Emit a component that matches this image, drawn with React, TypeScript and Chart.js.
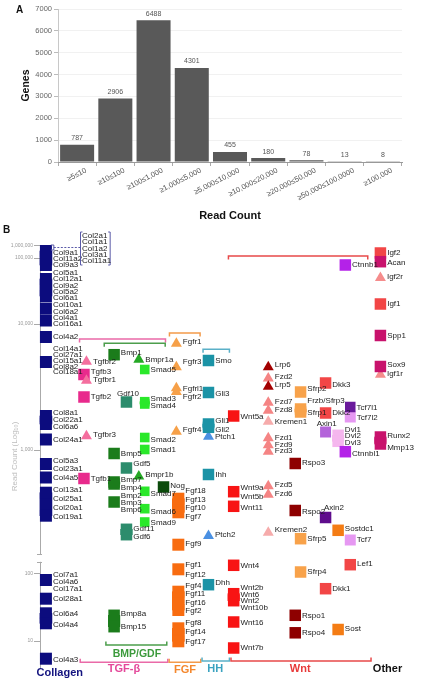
import React, { useEffect, useRef } from "react";
import { Chart, registerables } from "chart.js";

Chart.register(...registerables);

const FONT = '"Liberation Sans", Arial, "DejaVu Sans", sans-serif';

// ---------------- Panel A data ----------------
const readCountBins = [
  "≥5≤10",
  "≥10≤100",
  "≥100≤1,000",
  "≥1,000≤5,000",
  "≥5,000≤10,000",
  "≥10,000≤20,000",
  "≥20,000≤50,000",
  "≥50,000≤100,0000",
  "≥100,000",
];
const geneCounts = [787, 2906, 6488, 4301, 455, 180, 78, 13, 8];

// ---------------- Panel B data ----------------
// y = position on the (broken) log read-count axis, in plot units
const readCountTickPos = [34, 101.7, 225, 351, 417, 429.3];
const readCountTickLabels = ["10", "100", "1,000", "10,000", "100,000", "1,000,000"];
const axisBreak = [112.7, 120.7];

// row: [gene names, marker positions, label centre?, label spacing?, label x?]
type Row = [string, number[], number?, number?, number?];

const collagenGenes: Row[] = [
  ["Col9a1|Col11a2|Col9a3", [424, 410], 416, 6],
  ["Col5a1|Col12a1|Col9a2|Col5a2|Col6a1", [396, 379], 389.5, 6.3],
  ["Col10a1|Col6a2", [366.5], 366.7, 6.7],
  ["Col4a1|Col16a1", [354.5], 354, 6],
  ["Col4a2", [338]],
  ["Col14a1|Col27a1|Col15a1|Col8a2|Col18a1", [313], 314.5, 5.8],
  ["Col8a1|Col22a1|Col6a6", [259, 251], 255.3, 7],
  ["Col24a1", [235.5]],
  ["Col5a3|Col23a1", [211], 210.2, 8.3],
  ["Col4a5", [197.5]],
  ["Col13a1|Col25a1|Col20a1|Col19a1", [182.3, 159.3], 171.75, 8.9],
  ["Col7a1|Col4a6|Col17a1", [95], 93.3, 7.3],
  ["Col28a1", [76.3]],
  ["Col6a4|Col4a4", [61.7, 51.7], 56.2, 11],
  ["Col4a3", [16.3], 15],
];
const collagenTop = ["Col2a1", "Col1a1", "Col1a2", "Col3a1", "Col11a1"];

const tgfReceptors: Row[] = [["Tgfbr2", [313.4], 313.3], ["Tgfbr1", [294.4], 295.5], ["Tgfbr3", [239], 240.7]];
const tgfLigands: Row[] = [["Tgfb3", [300.5], 303.3], ["Tgfb2", [278]], ["Tgfb1", [196.5]]];

const bmpLigands: Row[] = [
  ["Bmp1", [320.3], 322.3],
  ["Bmp5", [221.5]],
  ["Bmp7|Bmp4", [193, 191], 191.7, 8],
  ["Bmp2|Bmp3|Bmp6", [173], 172.2, 7.2],
  ["Bmp8a|Bmp15", [59.7, 48.3], 54.7, 12.7],
];
const gdfLigands: Row[] = [
  ["Gdf10", [273], 281.7, undefined, 118],
  ["Gdf5", [207], 211.7],
  ["Gdf11|Gdf6", [145.7, 140.3], 142.5, 8.4],
];
const bmpReceptors: Row[] = [["Bmpr1a", [315.4], 315], ["Bmpr1b", [198.7], 200.7]];
const smads: Row[] = [
  ["Smad5", [305.5], 305],
  ["Smad3|Smad4", [273.3, 271], 272.5, 7],
  ["Smad2", [237.5], 235.7],
  ["Smad1", [225.5]],
  ["Smad7", [183.7], 181],
  ["Smad6", [166.3], 163.3],
  ["Smad9", [153], 152.3],
];
const noggin: Row[] = [["Nog", [188], 189.3]];

const fgfReceptors: Row[] = [
  ["Fgfr1", [331.5], 333.3],
  ["Fgfr3", [308], 313.3],
  ["Fgfrl1|Fgfr2", [286.9, 283.2], 282.5, 8.4],
  ["Fgfr4", [243.4], 245],
];
const fgfLigands: Row[] = [
  ["Fgf18|Fgf13|Fgf10|Fgf7", [176.3, 162.7], 171.4, 8.6],
  ["Fgf9", [130.3], 131],
  ["Fgf1|Fgf12", [105.7], 105.3, 10.7],
  ["Fgf4|Fgf11|Fgf16|Fgf2", [83.3, 65], 76.8, 8.2],
  ["Fgf8|Fgf14|Fgf17", [46.7, 33.7], 42.8, 9.5],
];

const hhGenes: Row[] = [
  ["Smo", [314.5], 314],
  ["Gli3", [282.5], 281],
  ["Gli1|Gli2", [251, 247.7], 249.8, 8.3],
  ["Ihh", [200.5], 200],
  ["Dhh", [90.3], 92.3],
];
const patched: Row[] = [["Ptch1", [238.4], 238.3], ["Ptch2", [139.1], 140]];

const wntLigands: Row[] = [
  ["Wnt5a", [259], 258.3],
  ["Wnt9a|Wnt5b", [183.3], 183, 9.4],
  ["Wnt11", [168.7], 167.7],
  ["Wnt4", [109.7]],
  ["Wnt2b|Wnt6|Wnt2|Wnt10b", [81.3, 74.3], 77, 6.5],
  ["Wnt16", [53], 52.3],
  ["Wnt7b", [27]],
];
const lrpReceptors: Row[] = [["Lrp6", [308], 310], ["Lrp5", [288.4], 290]];
const frizzleds: Row[] = [
  ["Fzd2", [296.7], 298.3],
  ["Fzd7|Fzd8", [272.4, 264.4], 269.5, 7.6],
  ["Fzd1|Fzd9|Fzd3", [236.9, 229.9, 223.4], 230.7, 6.2],
  ["Fzd5|Fzd6", [188.9, 180.4], 185.5, 9],
];
const kremens: Row[] = [["Kremen1", [253.4], 253.3], ["Kremen2", [142.4], 145]];
const rspondins: Row[] = [["Rspo3", [211.5], 212], ["Rspo2", [164.5], 163.3], ["Rspo1", [59.7], 59], ["Rspo4", [42.2], 42.3]];
const sfrps: Row[] = [
  ["Sfrp2", [283], 286],
  ["Frzb/Sfrp3|Sfrp1", [266, 263], 268.5, 11.6],
  ["Sfrp5", [136.3], 136.7],
  ["Sfrp4", [103], 103.3],
];
const dkks: Row[] = [["Dkk3", [292], 290], ["Dkk2", [262], 262.3], ["Dkk1", [86.3]]];
const axin1: Row[] = [["Axin1", [243], 251.7, undefined, 320]];
const axin2: Row[] = [["Axin2", [157.5], 167.7, undefined, 327.3]];
const sosts: Row[] = [["Sostdc1", [144.7], 146], ["Sost", [45.5], 46.3]];
const dvls: Row[] = [["Dvl1|Dvl2|Dvl3", [239.7, 233.7], 239.1, 6.5]];
const ctnnbs: Row[] = [["Ctnnb1", [410]], ["Ctnnbl1", [223.3], 221.7]];
const tcf7l1: Row[] = [["Tcf7l1", [268], 267.3]];
const tcfs: Row[] = [["Tcf7l2", [258], 257.7], ["Tcf7", [135], 135.7]];
const lef1: Row[] = [["Lef1", [110.3], 111]];
const otherIgf: Row[] = [["Igf2", [422]], ["Igf1", [371]]];
const otherMatrix: Row[] = [["Acan", [413.3], 412.7], ["Spp1", [339.5]], ["Sox9", [308.5], 310], ["Runx2|Mmp13", [238, 231], 233.3, 11.3]];
const otherReceptors: Row[] = [["Igf2r", [397.1], 398.3], ["Igf1r", [300.4], 301]];

// group brackets: [x1, x2, y, tick direction (+1 up / -1 down), colour]
const PINK = "#ea6aa8", GREEN = "#4c9e4c", ORANGE = "#f39a4a", TEAL = "#5ab0c8", RED = "#e84a4a";
const groupBrackets: [number, number, number, number, string][] = [
  [80, 167, 336, -1, PINK],
  [105, 166.7, 331.7, -1, GREEN],
  [171, 202, 342, -1, ORANGE],
  [205, 231.7, 325.7, -1, TEAL],
  [230.7, 371.7, 419, -1, RED],
  [106.7, 168.3, 30, 1, GREEN],
  [80.7, 169.3, 12.7, 1, PINK],
  [170.7, 202.7, 12.7, 1, ORANGE],
  [204, 231.7, 14, 1, TEAL],
  [233.3, 375, 14, 1, RED],
];
const groupNames = ["Collagen", "TGF-β", "BMP/GDF", "FGF", "HH", "Wnt", "Other"];
const groupNamePos: [number, number][] = [[60, 2.3], [125, 5.7], [138, 20.7], [186.7, 5], [217.3, 5.7], [303.3, 5.7], [391.7, 5.7]];
const groupNameColors = ["#13137f", "#e4489a", "#3b9a3b", "#f4882e", "#3ba3c0", "#e83a3a", "#111111"];

// ---------------- styles per family ----------------
type Fam = { rows: Row[]; x: number; color: string; shape: "rect" | "triangle"; side: number };
const families: Fam[] = [
  { rows: tgfReceptors, x: 87, color: "#f46e9e", shape: "triangle", side: 11 },
  { rows: otherMatrix, x: 384.5, color: "#c8126c", shape: "rect", side: 11.5 },
  { rows: otherIgf, x: 384.5, color: "#f24646", shape: "rect", side: 11.5 },
  { rows: collagenGenes, x: 46, color: "#0c0c7e", shape: "rect", side: 12 },
  { rows: tgfLigands, x: 84.5, color: "#e82a8c", shape: "rect", side: 11.5 },
  { rows: bmpLigands, x: 115, color: "#1b7c1b", shape: "rect", side: 11.5 },
  { rows: gdfLigands, x: 127.5, color: "#2c8c6c", shape: "rect", side: 11.5 },
  { rows: smads, x: 146, color: "#2ae82a", shape: "rect", side: 9.6 },
  { rows: noggin, x: 165, color: "#0b4b0b", shape: "rect", side: 11.5 },
  { rows: fgfLigands, x: 180, color: "#f86c10", shape: "rect", side: 12 },
  { rows: hhGenes, x: 210.5, color: "#1b93a6", shape: "rect", side: 11.5 },
  { rows: wntLigands, x: 236, color: "#f81414", shape: "rect", side: 11.5 },
  { rows: rspondins, x: 298.3, color: "#8e0000", shape: "rect", side: 11.5 },
  { rows: sfrps, x: 303.7, color: "#f8a24a", shape: "rect", side: 11.5 },
  { rows: dkks, x: 329, color: "#f24646", shape: "rect", side: 11.5 },
  { rows: axin1, x: 329, color: "#b464da", shape: "rect", side: 11 },
  { rows: axin2, x: 329, color: "#5e0c8c", shape: "rect", side: 11.5 },
  { rows: sosts, x: 341.7, color: "#f47c14", shape: "rect", side: 11.5 },
  { rows: ctnnbs, x: 349, color: "#b422e8", shape: "rect", side: 11.5 },
  { rows: dvls, x: 341.7, color: "#f5b6ee", shape: "rect", side: 11.5 },
  { rows: tcf7l1, x: 354, color: "#6a1a9c", shape: "rect", side: 10.5 },
  { rows: tcfs, x: 354, color: "#e698f2", shape: "rect", side: 11 },
  { rows: lef1, x: 354, color: "#f24646", shape: "rect", side: 11.5 },
  { rows: bmpReceptors, x: 140, color: "#25a825", shape: "triangle", side: 11 },
  { rows: fgfReceptors, x: 178, color: "#f6a048", shape: "triangle", side: 11 },
  { rows: patched, x: 210.5, color: "#4a90e2", shape: "triangle", side: 11 },
  { rows: lrpReceptors, x: 271, color: "#a30000", shape: "triangle", side: 11 },
  { rows: frizzleds, x: 271, color: "#f58484", shape: "triangle", side: 11 },
  { rows: kremens, x: 271, color: "#f6abab", shape: "triangle", side: 11 },
  { rows: otherReceptors, x: 384.5, color: "#f58c8c", shape: "triangle", side: 11 },
];

function buildDatasetsB() {
  const ds: any[] = [];
  families.forEach((f) => {
    const r = f.shape === "rect" ? f.side / Math.SQRT2 : f.side / Math.sqrt(3);
    ds.push({
      type: "scatter",
      data: f.rows.flatMap((row) => row[1].map((y) => ({ x: f.x, y }))),
      pointStyle: f.shape,
      pointRadius: r,
      pointHoverRadius: r,
      pointBackgroundColor: f.color,
      backgroundColor: f.color,
      pointBorderWidth: 0,
      borderWidth: 0,
      clip: false,
    });
    if (f.shape === "rect") {
      const blocks = f.rows
        .filter((row) => row[1].length > 1)
        .map((row) => ({ x: f.x, y: [Math.min(...row[1]), Math.max(...row[1])] }));
      if (blocks.length) {
        ds.push({
          type: "bar",
          data: blocks,
          grouped: false,
          maxBarThickness: f.side,
          barPercentage: 1,
          categoryPercentage: 1,
          backgroundColor: f.color,
          borderWidth: 0,
          clip: false,
        });
      }
    }
  });
  return ds;
}

const panelAPlugin = {
  id: "panelA",
  afterDatasetsDraw(chart: any) {
    const ctx = chart.ctx;
    const meta = chart.getDatasetMeta(0);
    ctx.save();
    ctx.font = `7px ${FONT}`;
    ctx.fillStyle = "#555";
    ctx.textAlign = "center";
    ctx.textBaseline = "bottom";
    meta.data.forEach((el: any, i: number) => ctx.fillText(String(geneCounts[i]), el.x, el.y - 3));
    ctx.font = `bold 10px ${FONT}`;
    ctx.fillStyle = "#111";
    ctx.textAlign = "left";
    ctx.textBaseline = "middle";
    ctx.fillText("A", 16, 10);
    ctx.restore();
  },
};

const panelBPlugin = {
  id: "panelB",
  afterDatasetsDraw(chart: any) {
    const ctx = chart.ctx;
    const xs = chart.scales.x;
    const ys = chart.scales.y;
    const px = (v: number) => xs.getPixelForValue(v);
    const py = (v: number) => ys.getPixelForValue(v);
    const unit = Math.abs(py(0) - py(1));
    ctx.save();

    // axis break
    const ax = chart.chartArea.left;
    ctx.fillStyle = "#fff";
    ctx.fillRect(ax - 2, py(axisBreak[1]) + 0.5, 3, py(axisBreak[0]) - py(axisBreak[1]) - 1);
    ctx.strokeStyle = "#aaa";
    ctx.lineWidth = 1;
    ctx.beginPath();
    [axisBreak[0], axisBreak[1]].forEach((v) => {
      ctx.moveTo(ax - 3, Math.round(py(v)) + 0.5);
      ctx.lineTo(ax + 2, Math.round(py(v)) + 0.5);
    });
    ctx.stroke();

    // brackets
    ctx.lineWidth = 1.5;
    groupBrackets.forEach(([x1, x2, v, dir, color]) => {
      const y = py(v);
      const t = y - dir * 3.5;
      ctx.strokeStyle = color;
      ctx.beginPath();
      ctx.moveTo(px(x1), t);
      ctx.lineTo(px(x1), y);
      ctx.lineTo(px(x2), y);
      ctx.lineTo(px(x2), t);
      ctx.stroke();
    });

    // group names
    ctx.textAlign = "center";
    ctx.textBaseline = "middle";
    groupNames.forEach((g, i) => {
      ctx.font = `bold ${g === "BMP/GDF" ? 10.5 : 11}px ${FONT}`;
      ctx.fillStyle = groupNameColors[i];
      ctx.fillText(g, px(groupNamePos[i][0]), py(groupNamePos[i][1]));
    });

    // gene labels
    ctx.font = `8px ${FONT}`;
    ctx.fillStyle = "#1c1c1c";
    ctx.textAlign = "left";
    families.forEach((f) => {
      f.rows.forEach((row) => {
        const names = row[0].split("|");
        const ys0 = row[1];
        const centre = row[2] !== undefined ? row[2] : ys0.reduce((a, b) => a + b, 0) / ys0.length;
        const sp = (row[3] !== undefined ? row[3] : 7) * unit;
        const lx = row[4] !== undefined ? px(row[4]) : px(f.x) + f.side / 2 + 1;
        const yc = py(centre);
        names.forEach((n, i) => ctx.fillText(n, lx, yc + (i - (names.length - 1) / 2) * sp));
      });
    });

    // top collagen box
    const boxCol = "#5a5aa8";
    ctx.strokeStyle = boxCol;
    ctx.lineWidth = 1;
    const bTop = py(443), bBot = py(410);
    ctx.beginPath();
    ctx.moveTo(px(83), bTop); ctx.lineTo(px(81), bTop); ctx.lineTo(px(81), bBot); ctx.lineTo(px(83), bBot);
    ctx.moveTo(px(109), bTop); ctx.lineTo(px(111), bTop); ctx.lineTo(px(111), bBot); ctx.lineTo(px(109), bBot);
    ctx.moveTo(px(51), py(430)); ctx.lineTo(px(54), py(430)); ctx.lineTo(px(54), py(425)); ctx.lineTo(px(51), py(425));
    ctx.stroke();
    ctx.setLineDash([2, 1.5]);
    ctx.beginPath();
    ctx.moveTo(px(54), py(427.5));
    ctx.lineTo(px(81), py(427.5));
    ctx.stroke();
    ctx.setLineDash([]);
    ctx.fillStyle = "#1c1c1c";
    collagenTop.forEach((n, i) => ctx.fillText(n, px(82.5), py(439 - i * 6.2)));

    // panel letter
    ctx.font = `bold 10px ${FONT}`;
    ctx.fillStyle = "#111";
    ctx.fillText("B", 3, 5);
    ctx.restore();
  },
};

export default function App() {
  const refA = useRef<HTMLCanvasElement>(null);
  const refB = useRef<HTMLCanvasElement>(null);

  useEffect(() => {
    document.body.style.margin = "0";
    Chart.defaults.font.family = FONT;

    const chartA = new Chart(refA.current as HTMLCanvasElement, {
      type: "bar",
      data: {
        labels: readCountBins,
        datasets: [
          {
            data: geneCounts,
            backgroundColor: "#595959",
            borderWidth: 0,
            barPercentage: 0.89,
            categoryPercentage: 1,
          },
        ],
      },
      options: {
        responsive: false,
        animation: false,
        devicePixelRatio: 1,
        events: [],
        layout: { padding: { left: 20, right: 20, top: 9, bottom: 2 } },
        plugins: { legend: { display: false }, tooltip: { enabled: false } },
        scales: {
          y: {
            min: 0,
            max: 7000,
            afterFit: (s: any) => { s.width = 38; },
            ticks: { stepSize: 1000, font: { size: 7.5 }, color: "#666", padding: 2, callback: (v: any) => String(v) },
            grid: { color: "#f1f1f1", tickColor: "#bbb", tickLength: 4 },
            border: { color: "#c8c8c8" },
            title: { display: true, text: "Genes", font: { size: 10.5, weight: "bold" }, color: "#111", padding: 0 },
          },
          x: {
            afterFit: (s: any) => { s.height = 61; },
            ticks: { font: { size: 7.5 }, color: "#555", minRotation: 27, maxRotation: 27, labelOffset: 9, padding: 0, autoSkip: false },
            grid: { offset: true, drawOnChartArea: false, tickLength: 4, color: "#aaa" },
            border: { color: "#999" },
            title: { display: true, text: "Read Count", font: { size: 11, weight: "bold" }, color: "#111", padding: 0 },
          },
        },
      } as any,
      plugins: [panelAPlugin],
    });

    const chartB = new Chart(refB.current as HTMLCanvasElement, {
      type: "scatter",
      data: { datasets: buildDatasetsB() },
      options: {
        responsive: false,
        animation: false,
        devicePixelRatio: 1,
        events: [],
        layout: { padding: { left: 0, right: 4, top: 20, bottom: 17 } },
        plugins: { legend: { display: false }, tooltip: { enabled: false } },
        scales: {
          x: { type: "linear", min: 40, max: 418, display: false, offset: false, grid: { offset: false } },
          y: {
            type: "linear",
            min: 7,
            max: 430,
            offset: false,
            afterBuildTicks: (s: any) => { s.ticks = readCountTickPos.map((v) => ({ value: v })); },
            afterFit: (s: any) => { s.width = 40; },
            ticks: {
              autoSkip: false,
              font: { size: 5 },
              color: "#999",
              padding: 1,
              callback: (_v: any, i: number) => readCountTickLabels[i],
            },
            grid: { drawOnChartArea: false, tickLength: 6, color: "#aaa" },
            border: { color: "#aaa" },
            title: {
              display: true,
              text: "Read Count (Log₁₀)",
              color: "#bdbdbd",
              font: { size: 8 },
              padding: { top: 10, bottom: 0 },
            },
          },
        },
      } as any,
      plugins: [panelBPlugin],
    });

    return () => {
      chartA.destroy();
      chartB.destroy();
    };
  }, []);

  return (
    <div style={{ position: "absolute", left: 0, top: 0, width: 422, height: 685, background: "#fff" }}>
      <canvas ref={refA} width={422} height={225} style={{ position: "absolute", left: 0, top: 0, width: 422, height: 225 }} />
      <canvas ref={refB} width={422} height={460} style={{ position: "absolute", left: 0, top: 225, width: 422, height: 460 }} />
    </div>
  );
}
